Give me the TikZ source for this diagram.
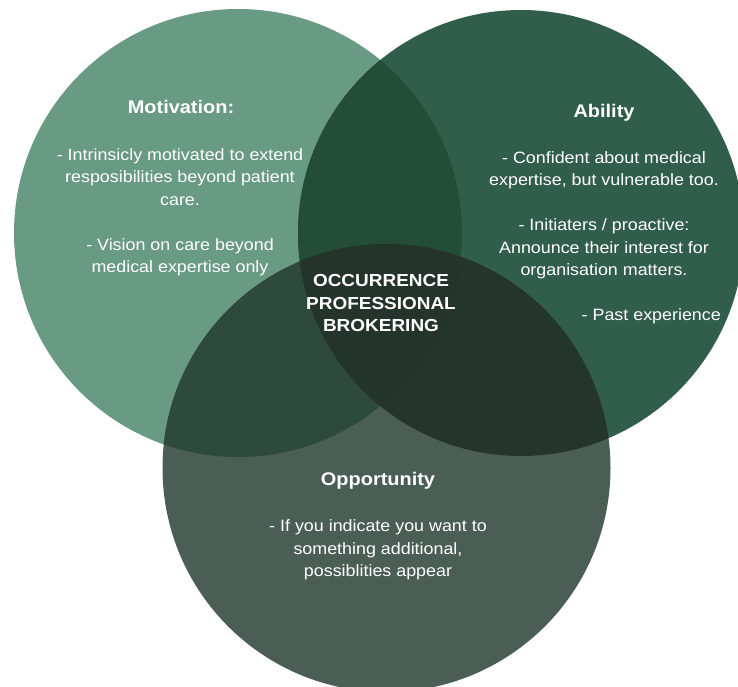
\documentclass[tikz,border=0pt]{standalone}
\usepackage{fontspec}
\setmainfont[FakeStretch=1.09]{Liberation Sans}
\definecolor{motfill}{HTML}{699A83}
\definecolor{abifill}{HTML}{315E4A}
\definecolor{oppfill}{HTML}{4A5E55}
\definecolor{mafill}{HTML}{234D37}
\definecolor{mofill}{HTML}{2E4A3C}
\definecolor{aofill}{HTML}{24362C}
\definecolor{allfill}{HTML}{25342B}
\begin{document}
\begin{tikzpicture}[x=1pt,y=-1pt,
  body/.style={text=white, align=center, inner sep=0pt,
    font=\fontsize{16.4}{22.5}\selectfont},
  head/.style={text=white, inner sep=0pt,
    font=\bfseries\fontsize{18.3}{22}\selectfont},
  core/.style={text=white, align=center, inner sep=0pt,
    font=\bfseries\fontsize{17.4}{22.4}\selectfont}]
\useasboundingbox (0,0) rectangle (738,687);
\clip (0,0) rectangle (738,687);
\fill[white] (0,0) rectangle (738,687);

% circle centres
\coordinate (M) at (238,233);
\coordinate (A) at (521,233);
\coordinate (O) at (386.5,468);
\def\rM{224pt}
\def\rA{223pt}
\def\rO{224pt}

% the three sets
\fill[motfill] (M) circle (\rM);
\fill[abifill] (A) circle (\rA);
\fill[oppfill] (O) circle (\rO);

% pairwise overlaps
\begin{scope}
  \clip (M) circle (\rM);
  \fill[mafill] (A) circle (\rA);
\end{scope}
\begin{scope}
  \clip (M) circle (\rM);
  \fill[mofill] (O) circle (\rO);
\end{scope}
\begin{scope}
  \clip (A) circle (\rA);
  \fill[aofill] (O) circle (\rO);
\end{scope}
% common centre
\begin{scope}
  \clip (M) circle (\rM);
  \clip (A) circle (\rA);
  \fill[allfill] (O) circle (\rO);
\end{scope}

% multi-line nodes are placed by the baseline of their last line

% Motivation
\node[head, anchor=base] (mothead) at (181,113.3) {Motivation:};
\node[body, anchor=base] (motbody) at (180,272.5)
  {- Intrinsicly motivated to extend\\resposibilities beyond patient\\care.\\[22.5pt]- Vision on care beyond\\medical expertise only};

% Ability
\node[head, anchor=base] (abihead) at (604,118) {Ability};
\node[body, anchor=base] (abibody) at (604,275.5)
  {- Confident about medical\\expertise, but vulnerable too.\\[22.5pt]- Initiaters / proactive:\\Announce their interest for\\organisation matters.};
\node[body, anchor=base east] (abipast) at (721,320) {- Past experience};

% centre
\node[core, anchor=base] (centre) at (381,331.5)
  {OCCURRENCE\\PROFESSIONAL\\BROKERING};

% Opportunity
\node[head, anchor=base] (opphead) at (378,485) {Opportunity};
\node[body, anchor=base] (oppbody) at (378,576.5)
  {- If you indicate you want to\\something additional,\\possiblities appear};
\end{tikzpicture}
\end{document}
